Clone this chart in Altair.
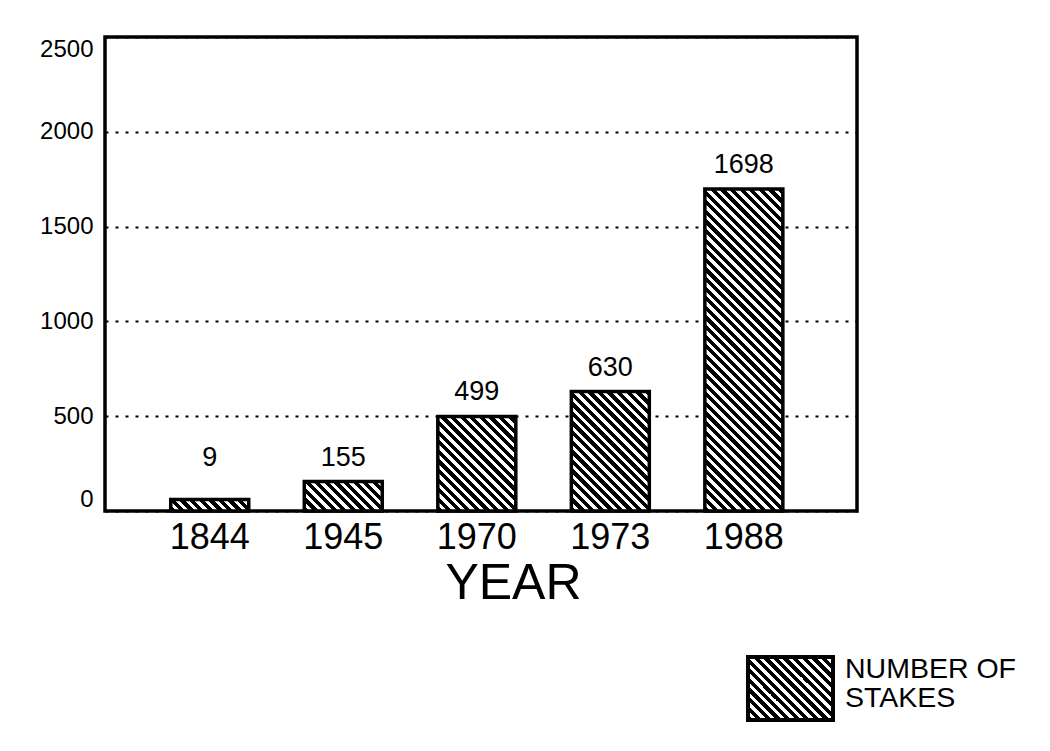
import math
import altair as alt

# ---- data ----
years = ["1844", "1945", "1970", "1973", "1988"]
stakes = [9, 155, 499, 630, 1698]
y_ticks = [0, 500, 1000, 1500, 2000, 2500]
legend_lines = ["NUMBER OF", "STAKES"]

# ---- layout ----
W, H = 752, 474
YMAX = 2500
P_IN, P_OUT, ALIGN = 0.416, 0.524, 0.47
MIN_BAR = 60      # smallest drawn bar (the 9 bar is drawn visibly in the original)
MIN_LABEL = 155   # label height floor for tiny bars
FONT = "Liberation Sans"

step = W / (len(years) - P_IN + 2 * P_OUT)
bar_w = step * (1 - P_IN)


def hatch(w, h, period=9.6, black=0.55):
    """Diagonal '\\' hatch as a hard-stop linear gradient (SVG bbox units)."""
    p = period / math.sqrt(2)
    span = (w + h) / math.sqrt(2)
    n = span / p
    k = (w + h) / (w * w + h * h)
    stops = []
    i = 0
    while i / n < 1:
        a = i / n
        b = min((i + black) / n, 1)
        c = min((i + 1) / n, 1)
        stops += [
            {"offset": a, "color": "black"},
            {"offset": b, "color": "black"},
        ]
        if b < 1:
            stops += [
                {"offset": b, "color": "white"},
                {"offset": c, "color": "white"},
            ]
        i += 1
    return {
        "gradient": "linear",
        "x1": 0, "y1": 1,
        "x2": k * w, "y2": 1 - k * h,
        "stops": stops,
    }


rows = []
for yr, v in zip(years, stakes):
    disp = max(v, MIN_BAR)
    rows.append({
        "year": yr,
        "stakes": v,
        "disp": disp,
        "ly": max(v, MIN_LABEL),
        "hatch": hatch(bar_w, disp / YMAX * H),
    })
data = alt.Data(values=rows)

x = alt.X(
    "year:N",
    sort=years,
    scale=alt.Scale(paddingInner=P_IN, paddingOuter=P_OUT, align=ALIGN),
    axis=alt.Axis(
        title="YEAR", labelAngle=0, labelFontSize=36, labelColor="black",
        labelPadding=9, ticks=False, domain=False,
        titleFontSize=50, titleFontWeight="normal", titleColor="black",
        titleX=408, titleY=87, titleBaseline="alphabetic", titleAlign="center",
    ),
)
yscale = alt.Scale(domain=[0, YMAX], nice=False)

bars = alt.Chart(data).mark_bar(stroke="black", strokeWidth=3.5).encode(
    x=x,
    y=alt.Y(
        "disp:Q", scale=yscale,
        axis=alt.Axis(
            title=None, values=y_ticks, format="d", labelFontSize=24,
            labelColor="black", labelPadding=12, ticks=False, domain=False,
            labelFlush=True, grid=True, gridColor="black",
            gridDash=[3, 7], gridWidth=2.2,
        ),
    ),
    fill=alt.Fill("hatch:N", scale=None),
)

labels = alt.Chart(data).mark_text(
    fontSize=27, dy=-16, baseline="alphabetic", color="black"
).encode(
    x=alt.X("year:N", sort=years),
    y=alt.Y("ly:Q", scale=yscale),
    text="stakes:Q",
)

# legend swatch and text (drawn below the plot, bottom right)
sw_w, sw_h = 85, 63
legend_box = alt.Chart(alt.Data(values=[{"k": 1}])).mark_rect(
    stroke="black", strokeWidth=4, fill=hatch(sw_w, sw_h)
).encode(
    x=alt.value(643), x2=alt.value(643 + sw_w),
    y=alt.value(620), y2=alt.value(620 + sw_h),
)
legend_text = alt.Chart(alt.Data(values=[{"k": 1}])).mark_text(
    align="left", baseline="alphabetic", fontSize=28.5, lineHeight=29,
    color="black", text=legend_lines,
).encode(x=alt.value(740), y=alt.value(641))

chart = alt.layer(bars, labels, legend_box, legend_text).properties(
    width=W, height=H,
    autosize=alt.AutoSizeParams(type="none"),
    padding={"left": 97, "top": 29, "right": 180, "bottom": 225},
).configure(font=FONT).configure_view(
    stroke="black", strokeWidth=3.5
)

chart.save("out.html", embed_options={"renderer": "svg", "actions": False})
